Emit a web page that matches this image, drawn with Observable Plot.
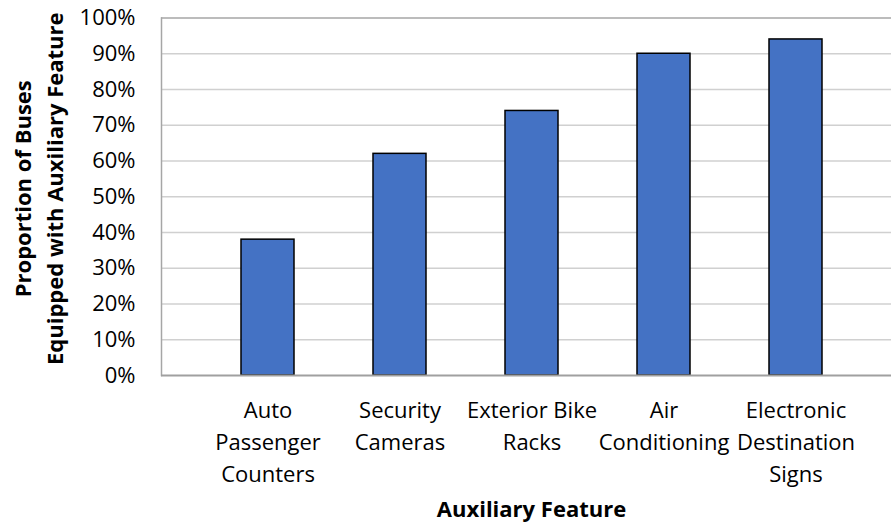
<!DOCTYPE html>
<html>
<head>
<meta charset="utf-8">
<script src="https://cdn.jsdelivr.net/npm/d3@7"></script>
<script src="https://cdn.jsdelivr.net/npm/@observablehq/plot@0.6"></script>
<style>
  html, body { margin: 0; padding: 0; background: #fff; overflow: hidden; }
  #chart { width: 891px; height: 529px; }
</style>
</head>
<body>
<div id="chart"></div>
<script>
const categories = ["Auto\nPassenger\nCounters", "Security\nCameras", "Exterior Bike\nRacks", "Air\nConditioning", "Electronic\nDestination\nSigns"];
const values = [0.38, 0.62, 0.74, 0.90, 0.94];
const yTicks = [0, 0.1, 0.2, 0.3, 0.4, 0.5, 0.6, 0.7, 0.8, 0.9, 1.0];
const yTitle = "Proportion of Buses\nEquipped with Auxiliary Feature";
const xTitle = "Auxiliary Feature";

const data = categories.map((c, i) => ({category: c, value: values[i]}));

const fontFamily = "'Open Sans', sans-serif";

const chart = Plot.plot({
  width: 891,
  height: 529,
  marginLeft: 161,
  marginRight: -10,
  marginTop: 17.5,
  marginBottom: 154,
  style: {fontFamily, fontSize: "22px", color: "#000", background: "#fff", overflow: "visible"},
  x: {domain: categories, padding: 0.6, align: 0.5, label: null},
  y: {domain: [0, 1], label: null},
  marks: [
    Plot.gridY(yTicks.slice(1, -1), {stroke: "#d0d0d0", strokeOpacity: 1, strokeWidth: 1.5}),
    Plot.ruleY([1], {stroke: "#a6a6a6", strokeWidth: 1.5}),
    Plot.frame({anchor: "left", stroke: "#a6a6a6", strokeWidth: 1.5}),
    Plot.barY(data, {x: "category", y: "value", fill: "#4472C4", stroke: "#000", strokeWidth: 1.5}),
    Plot.ruleY([0], {stroke: "#a0a0a0", strokeWidth: 2}),
    Plot.axisY(yTicks, {tickFormat: d3.format(".0%"), tickSize: 0, tickPadding: 26, fontSize: 22, fill: "#000"}),
    Plot.axisX({tickSize: 0, tickPadding: 20, fontSize: 22, lineHeight: 1.45, fill: "#000", label: null}),
    Plot.text([yTitle], {frameAnchor: "left", textAnchor: "middle", lineAnchor: "middle", dx: -125, dy: -8, rotate: -90, fontWeight: "bold", fontSize: 22, lineHeight: 1.45, fill: "#000"}),
    Plot.text([xTitle], {frameAnchor: "bottom", textAnchor: "middle", dy: 141, fontWeight: "bold", fontSize: 22, fill: "#000"})
  ]
});
document.getElementById("chart").appendChild(chart);
</script>
</body>
</html>
